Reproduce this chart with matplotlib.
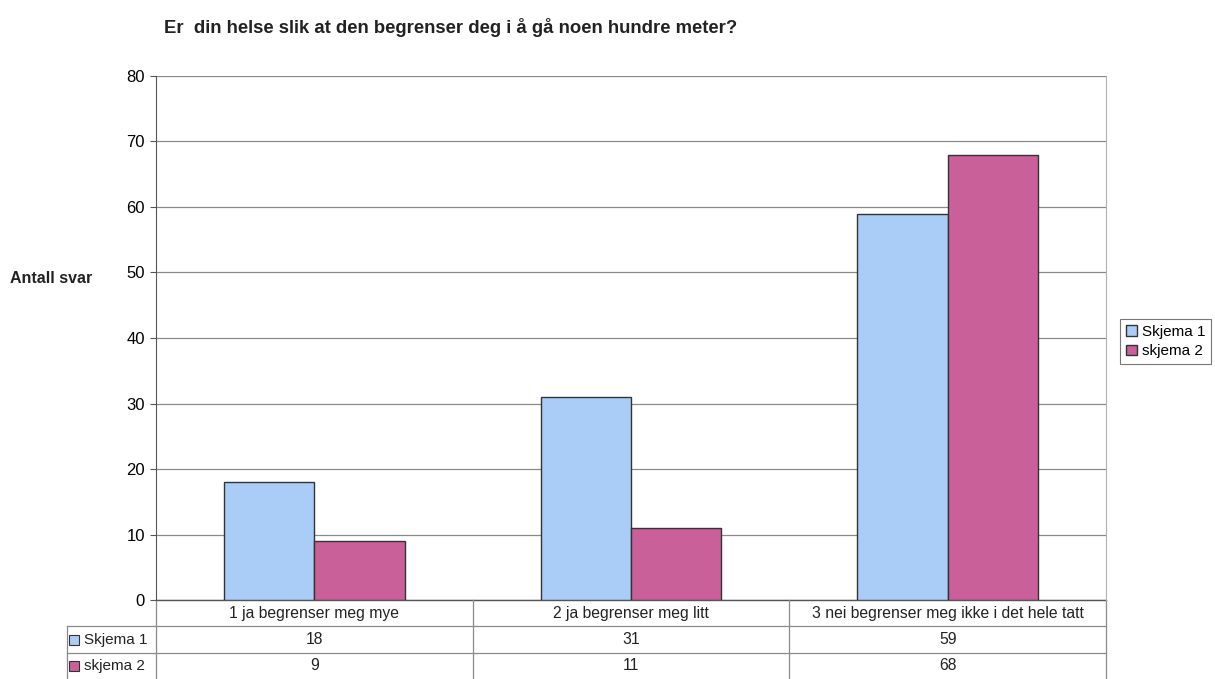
import numpy as np
import matplotlib.pyplot as plt
from matplotlib.patches import Rectangle

plt.rcParams['font.family'] = ['Liberation Sans', 'DejaVu Sans']

tittel = 'Er  din helse slik at den begrenser deg i å gå noen hundre meter?'
kategorier = ['1 ja begrenser meg mye', '2 ja begrenser meg litt',
              '3 nei begrenser meg ikke i det hele tatt']
serier = ['Skjema 1', 'skjema 2']
skjema1 = [18, 31, 59]
skjema2 = [9, 11, 68]
farger = ['#A9CDF6', '#C9609A']

fig = plt.figure(figsize=(12.15, 6.79), dpi=100)
ax = fig.add_axes([0.1284, 0.1163, 0.7819, 0.7718])

x = np.arange(len(kategorier))
b = 0.285
verdier = [skjema1, skjema2]
for i, (navn, v) in enumerate(zip(serier, verdier)):
    ax.bar(x + (i - 0.5) * b, v, width=b, color=farger[i], edgecolor='#333333',
           linewidth=1.0, label=navn, zorder=3)

ax.set_xlim(-0.5, len(kategorier) - 0.5)
ax.set_ylim(0, 80)
ax.set_yticks(range(0, 81, 10))
ax.tick_params(axis='y', labelsize=12, length=4, color='#555555', pad=4)
ax.set_xticks([])
ax.grid(axis='y', color='#8a8a8a', linewidth=0.9, zorder=0)
for s in ['top', 'bottom']:
    ax.spines[s].set_visible(False)
ax.spines['left'].set_color('#555555')
ax.spines['right'].set_color('#b0b0b0')

fig.text(0.135, 0.96, tittel, fontsize=13.3, fontweight='bold', color='#222222',
         va='center', ha='left')
fig.text(0.008, 0.59, 'Antall svar', fontsize=11.5, fontweight='bold',
         color='#222222', va='center', ha='left')

# tabell under plottet
trans = ax.get_xaxis_transform()
rad_h = 0.0503  # i aksekoordinater
venstre = -0.5 - 0.2811  # radetikett-kolonne
linjefarge = '#8a8a8a'
y_rader = [0.0, -rad_h, -2 * rad_h, -3 * rad_h]
ax.plot([-0.5, 2.5], [0, 0], transform=trans, color='#555555', lw=1.0, clip_on=False)
for yy in y_rader[1:3]:
    ax.plot([venstre, 2.5], [yy, yy], transform=trans, color=linjefarge, lw=0.9,
            clip_on=False)
for xx in [-0.5, 0.5, 1.5, 2.5]:
    ax.plot([xx, xx], [0, y_rader[-1]], transform=trans, color=linjefarge, lw=0.9,
            clip_on=False)
ax.plot([venstre, venstre], [y_rader[1], y_rader[-1]], transform=trans,
        color=linjefarge, lw=0.9, clip_on=False)

for j, k in enumerate(kategorier):
    ax.text(j, -rad_h / 2, k, transform=trans, ha='center', va='center',
            fontsize=11.3, color='#222222')
for i, (navn, v) in enumerate(zip(serier, verdier)):
    yc = -(i + 1.5) * rad_h
    for j, val in enumerate(v):
        ax.text(j, yc, str(val), transform=trans, ha='center', va='center',
                fontsize=11.3, color='#222222')
    ax.add_patch(Rectangle((venstre + 0.007, yc - 0.0095), 0.03, 0.019,
                           transform=trans, facecolor=farger[i],
                           edgecolor='#333333', lw=0.8, clip_on=False))
    ax.text(venstre + 0.055, yc, navn, transform=trans, ha='left', va='center',
            fontsize=11, color='#222222')

leg = fig.legend(loc='center left', bbox_to_anchor=(0.922, 0.497), fontsize=11,
                 frameon=True, fancybox=False, edgecolor='#555555',
                 handlelength=0.7, handleheight=0.7, handletextpad=0.3,
                 borderpad=0.4, labelspacing=0.35, borderaxespad=0)
leg.get_frame().set_linewidth(0.8)

fig.savefig('out.png', dpi=100)
